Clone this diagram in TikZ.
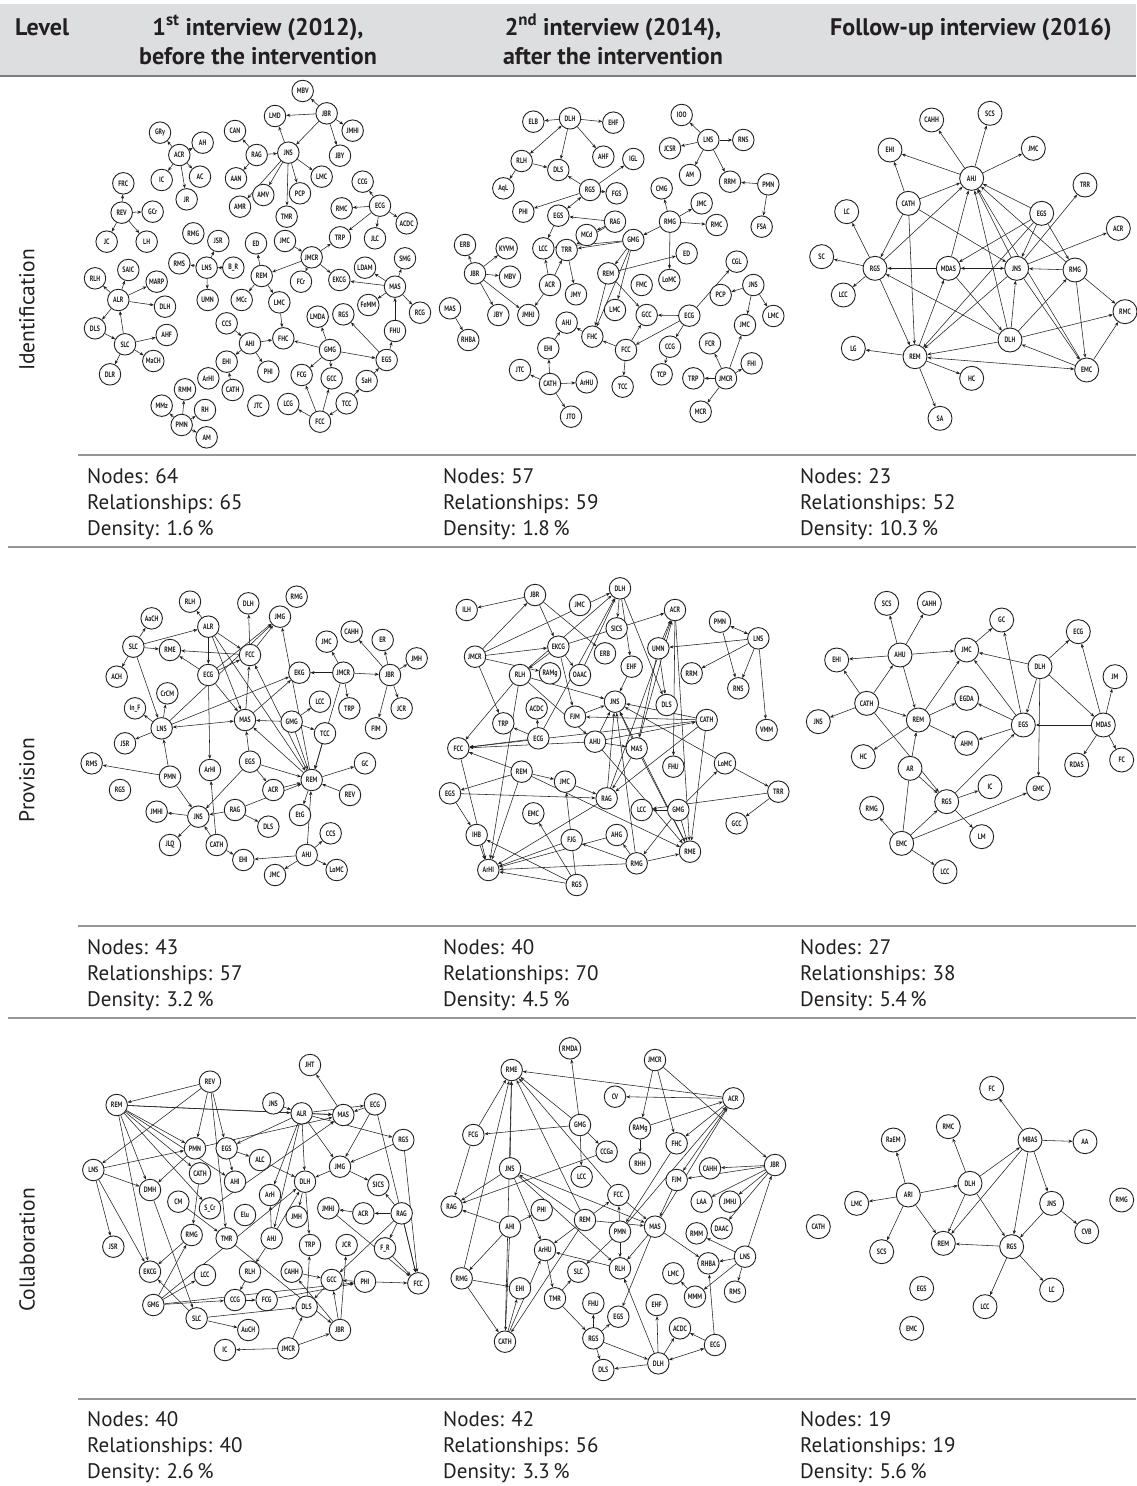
\documentclass[tikz,border=0pt]{standalone}
\usepackage{fontspec}
\setmainfont{PT Sans}
\newfontfamily\nfont[FakeStretch=0.76]{PT Sans}
\usetikzlibrary{arrows.meta}
\definecolor{hdr}{RGB}{221,222,224}
\definecolor{rulec}{RGB}{150,150,150}
\definecolor{hrule}{RGB}{125,125,125}
\definecolor{ink}{RGB}{35,31,32}
\pgfdeclarelayer{bg}
\pgfdeclarelayer{edges}
\pgfsetlayers{bg,edges,main}
\tikzset{
 nd/.style={circle, draw=ink, line width=0.9pt, fill=white, minimum size=21.5pt, inner sep=0pt, font=\nfont\bfseries\fontsize{7.8}{8}\selectfont, text=ink},
 ndL/.style={nd, minimum size=24pt},
 ed/.style={draw=ink, line width=0.55pt, -{Stealth[length=4pt,width=3.2pt]}},
 bi/.style={draw=ink, line width=0.55pt, {Stealth[length=4pt,width=3.2pt]}-{Stealth[length=4pt,width=3.2pt]}},
 stat/.style={anchor=base west, font=\fontsize{21}{24}\selectfont, text=ink, inner sep=0pt},
 head/.style={anchor=base, font=\bfseries\fontsize{24}{28}\selectfont, text=ink, inner sep=0pt},
 rowlab/.style={rotate=90, font=\fontsize{21.5}{24}\selectfont, text=ink, inner sep=0pt},
 tabrule/.style={draw=rulec, line width=1.5pt},
}
\begin{document}
\begin{tikzpicture}[x=1pt,y=-1pt]
\useasboundingbox (0,0) rectangle (1136,1486);
\begin{pgfonlayer}{bg}
\fill[white] (0,0) rectangle (1136,1486);
\end{pgfonlayer}
% header
\fill[hdr] (0,4) rectangle (1136,75);
\draw[draw=hrule, line width=2pt] (0,76) -- (1136,76);
\node[head, anchor=base west] (hLevel) at (15,35) {Level};
\node[head] (h1a) at (258,35) {1\textsuperscript{st} interview (2012),};
\node[head] (h1b) at (258,64) {before the intervention};
\node[head] (h2a) at (613,35) {2\textsuperscript{nd} interview (2014),};
\node[head] (h2b) at (613,64) {after the intervention};
\node[head] (h3a) at (971,35) {Follow-up interview (2016)};
% rules
\draw[tabrule] (78,455) -- (1136,455);
\draw[tabrule] (8,547) -- (1136,547);
\draw[tabrule] (78,926) -- (1136,926);
\draw[tabrule] (8,1018) -- (1136,1018);
\draw[tabrule] (78,1399) -- (1136,1399);
% row labels
\node[rowlab] (rIdent) at (27,310) {Identification};
\node[rowlab] (rProv) at (27,780) {Provision};
\node[rowlab] (rColl) at (27,1250) {Collaboration};
% stats
\node[stat] (s11a) at (87,483) {Nodes: 64};
\node[stat] (s11b) at (87,509) {Relationships: 65};
\node[stat] (s11c) at (87,535) {Density: 1.6\,\%};
\node[stat] (s12a) at (443,483) {Nodes: 57};
\node[stat] (s12b) at (443,509) {Relationships: 59};
\node[stat] (s12c) at (443,535) {Density: 1.8\,\%};
\node[stat] (s13a) at (800,483) {Nodes: 23};
\node[stat] (s13b) at (800,509) {Relationships: 52};
\node[stat] (s13c) at (800,535) {Density: 10.3\,\%};
\node[stat] (s21a) at (87,954) {Nodes: 43};
\node[stat] (s21b) at (87,980) {Relationships: 57};
\node[stat] (s21c) at (87,1006) {Density: 3.2\,\%};
\node[stat] (s22a) at (443,954) {Nodes: 40};
\node[stat] (s22b) at (443,980) {Relationships: 70};
\node[stat] (s22c) at (443,1006) {Density: 4.5\,\%};
\node[stat] (s23a) at (800,954) {Nodes: 27};
\node[stat] (s23b) at (800,980) {Relationships: 38};
\node[stat] (s23c) at (800,1006) {Density: 5.4\,\%};
\node[stat] (s31a) at (87,1426) {Nodes: 40};
\node[stat] (s31b) at (87,1452) {Relationships: 40};
\node[stat] (s31c) at (87,1478) {Density: 2.6\,\%};
\node[stat] (s32a) at (443,1426) {Nodes: 42};
\node[stat] (s32b) at (443,1452) {Relationships: 56};
\node[stat] (s32c) at (443,1478) {Density: 3.3\,\%};
\node[stat] (s33a) at (800,1426) {Nodes: 19};
\node[stat] (s33b) at (800,1452) {Relationships: 19};
\node[stat] (s33c) at (800,1478) {Density: 5.6\,\%};

% ===== Graph a: Identification 2012 =====
\begin{scope}[shift={(80,85)},x=0.33333pt,y=-0.33333pt]
\foreach \nm/\xx/\yy in {MBV/668/18, JBR/740/85, LMD/585/93, JMHI/818/137, CAN/465/138, RAG/530/210, JNS/625/203, JBY/780/212, AAN/468/280, LMC/725/275, AMV/550/330, PCP/660/325, AMR/480/365, TMR/620/395, GRy/240/143, AH/368/173, ACR/298/210, IC/245/285, AC/360/275, JR/320/343, FRC/130/295, REV/125/383, GCr/218/380, JC/80/470, LH/200/470, CCG/848/290, ECG/900/362, RMC/785/370, ACDC/980/415, TRP/780/457, JLC/885/460, JMC/615/468, JMCR/695/517, ED/528/475, RMG/340/445, JSR/415/468, RMS/298/535, LNS/380/548, REM/545/573, UMN/383/645, MCc/485/645, FCr/663/590, EKCG/778/585, LDAM/855/548, SMG/975/520, MAS/945/605, FeMM/865/660, RCG/1020/683, RGS/790/688, FHU/945/738, LMDA/713/695, RLH/45/580, SAIC/145/555, MARP/230/590, ALR/115/645, DLH/255/665, DLS/45/730, AHF/260/750, SLC/135/778, MaCH/220/828, DLR/90/868, CCS/440/715, AHJ/510/775, FHC/610/760, GMG/750/795, EGS/920/825, EHI/440/830, PHI/565/860, FCG/665/870, GCC/755/880, SaH/860/888, ArHI/385/880, CATH/458/915, RMM/315/913, MMz/245/962, RH/375/975, JTC/535/962, LCG/625/957, TCC/800/955, FCC/720/1010, PMN/305/1020, AM/380/1057}
  \node[nd] (a\nm) at (\xx,\yy) {\nm};
\node[nd] (aBR) at (460,548) {B\_R};
\node[nd] (aLMCb) at (598,652) {LMC};
\begin{pgfonlayer}{edges}
\foreach \sa/\tb in {JBR/MBV, JBR/LMD, JBR/JMHI, JBR/JBY, JBR/JNS, JNS/LMD, RAG/CAN, RAG/AAN, RAG/JNS, JNS/AMR, JNS/AMV, JNS/TMR, JNS/PCP, JNS/LMC, ACR/GRy, ACR/AH, ACR/IC, ACR/AC, ACR/JR, REV/FRC, REV/GCr, REV/JC, REV/LH, ECG/CCG, ECG/RMC, ECG/ACDC, ECG/TRP, ECG/JLC, JMC/JMCR, JMCR/TRP, JMCR/REM, JMCR/FCr, JMCR/EKCG, REM/ED, REM/MCc, REM/LMCb, LNS/JSR, LNS/RMS, LNS/UMN, BR/LNS, MAS/LDAM, MAS/SMG, MAS/EKCG, MAS/FeMM, MAS/RCG, FHU/MAS, EGS/FHU, EGS/RGS, GMG/EGS, GMG/LMDA, GMG/FHC, GMG/FCG, GMG/GCC, LMCb/FHC, AHJ/FHC, CCS/AHJ, AHJ/EHI, AHJ/PHI, CATH/EHI, FCC/FCG, FCC/GCC, FCC/LCG, TCC/FCC, TCC/SaH, SaH/EGS, ALR/RLH, ALR/SAIC, ALR/MARP, ALR/DLH, ALR/DLS, SLC/ALR, DLS/SLC, SLC/AHF, SLC/MaCH, SLC/DLR, PMN/MMz, PMN/RMM, PMN/RH, PMN/AM}
  \draw[ed] (a\sa) -- (a\tb);
\end{pgfonlayer}
\end{scope}

% ===== Graph b: Identification 2014 =====
\begin{scope}[shift={(440,85)},x=0.33333pt,y=-0.33333pt]
\foreach \nm/\xx/\yy in {DLH/390/100, ELB/280/110, EHF/520/113, RLH/245/228, DLS/355/255, AHF/490/215, IGL/580/222, AqL/190/310, RGS/450/315, FGS/530/325, PHI/250/380, EGS/355/392, RAG/525/410, MCd/440/450, GMG/580/465, LCC/310/490, TRR/380/495, ERB/75/480, KYVM/200/490, JBR/105/565, MBV/210/575, ACR/330/600, JMY/408/628, REM/505/565, FMC/605/600, LoMC/688/585, ED/740/505, LMC/525/675, GCC/620/690, ECG/748/692, CGL/890/530, PCP/842/630, JNS/940/600, JMC/915/720, MAS/30/670, RHBA/85/765, JBY/175/690, JMHJ/265/690, AHJ/380/713, FHC/457/755, FCC/558/795, CCG/690/785, FCR/810/775, FHI/935/835, EHI/325/790, JTC/240/855, CATH/330/897, ArHU/440/892, JTO/393/995, TCC/548/905, TCP/665/868, TRP/760/880, JMCR/858/880, MCR/782/980, IOO/725/90, LNS/805/165, RNS/910/165, JCSR/690/190, AM/750/270, RRM/870/290, PMN/985/298, FSA/965/425, CMG/665/310, RMG/690/410, RMC/830/420}
  \node[nd] (b\nm) at (\xx,\yy) {\nm};
\node[nd] (bLMCb) at (1000,693) {LMC};
\node[nd] (bJMCb) at (785,355) {JMC};
\begin{pgfonlayer}{edges}
\foreach \sa/\tb in {DLH/ELB, DLH/EHF, DLH/DLS, DLH/AHF, RLH/DLS, RLH/AqL, RGS/DLS, RGS/IGL, RGS/FGS, RGS/PHI, RAG/EGS, RAG/MCd, RAG/TRR, EGS/LCC, GMG/LCC, GMG/TRR, GMG/REM, GMG/LMC, GMG/FHC, RMG/GMG, RMG/CMG, RMG/JMCb, RMG/RMC, RMG/LoMC, REM/ED, REM/GCC, REM/FHC, JBR/ERB, JBR/KYVM, JBR/MBV, JBR/JBY, JBR/JMHJ, ACR/LCC, ACR/TRR, ACR/JMHJ, TRR/JMY, MAS/RHBA, ECG/GCC, ECG/FCC, ECG/CCG, ECG/CGL, JNS/PCP, JNS/LMCb, JNS/JMC, FCC/FHC, FCC/GCC, FCC/TCC, FHC/AHJ, EHI/AHJ, CATH/EHI, CATH/JTC, CATH/ArHU, CATH/JTO, CCG/TCP, JMCR/FCR, JMCR/FHI, JMCR/TRP, JMCR/MCR, JMCR/JMC, LNS/IOO, LNS/RNS, LNS/JCSR, LNS/AM, LNS/RRM, PMN/RRM, PMN/FSA}
  \draw[ed] (b\sa) -- (b\tb);
\foreach \sa/\tb in {DLH/RLH, RGS/EGS}
  \draw[bi] (b\sa) -- (b\tb);
\end{pgfonlayer}
\end{scope}

% ===== Graph c: Identification 2016 =====
\begin{scope}[shift={(790,85)},x=0.33333pt,y=-0.33333pt]
\foreach \nm/\xx/\yy in {CAHH/425/105, SCS/600/85, EHI/300/195, JMC/730/190, AHJ/545/280, TRR/885/300, CATH/355/355, EGS/755/385, LC/170/380, ACR/985/430, SC/95/515, RGS/255/550, MDAS/475/550, JNS/680/550, RMG/855/555, LCC/160/630, RMC/1005/680, DLH/660/765, LG/190/790, REM/375/815, EMC/890/855, HC/545/880, SA/450/1000}
  \node[ndL] (c\nm) at (\xx,\yy) {\nm};
\begin{pgfonlayer}{edges}
\foreach \sa/\tb in {AHJ/CAHH, AHJ/SCS, AHJ/JMC, AHJ/EHI, CATH/EHI, CATH/AHJ, CATH/RGS, CATH/REM, CATH/JNS, RGS/LC, RGS/SC, RGS/LCC, RGS/AHJ, RGS/REM, MDAS/RGS, MDAS/AHJ, MDAS/DLH, REM/MDAS, REM/LG, REM/HC, REM/SA, EGS/AHJ, EGS/MDAS, EGS/JNS, EGS/RMG, EGS/REM, JNS/AHJ, JNS/TRR, JNS/ACR, JNS/REM, JNS/EMC, RMG/JNS, RMG/AHJ, RMG/RMC, RMG/EMC, DLH/AHJ, DLH/JNS, DLH/RMG, DLH/RMC, DLH/REM, DLH/RGS, EMC/DLH, EMC/RMC, EMC/AHJ}
  \draw[ed] (c\sa) -- (c\tb);
\foreach \sa/\tb in {MDAS/JNS, REM/EMC}
  \draw[bi] (c\sa) -- (c\tb);
\end{pgfonlayer}
\end{scope}

% ===== Graph d: Provision 2012 =====
\begin{scope}[shift={(80,580)},x=0.33333pt,y=-0.33333pt]
\foreach \nm/\xx/\yy in {RLH/330/65, DLH/505/70, RMG/650/50, AaCH/215/115, ALR/385/140, JMG/600/110, SLC/160/200, RME/270/210, FCC/510/225, ECG/385/285, EKG/658/278, JMC/740/185, CAHH/815/155, ER/908/180, JMH/1010/235, JMCR/790/278, JBR/930/285, ACH/110/290, CrCM/262/340, LNS/245/445, MAS/495/420, GMG/635/425, LCC/720/365, TRP/808/385, JCR/965/385, FIM/888/445, TCC/735/460, JSR/135/490, RMS/35/550, PMN/270/590, ArHI/390/570, EGS/510/545, REM/695/600, GC/855/550, RGS/120/630, ACR/580/630, REV/810/645, JMHI/230/695, JNS/355/710, RAG/465/690, EtG/660/705, DLS/565/740, CCS/752/760, JLQ/270/795, CATH/410/795, EHI/490/840, AHJ/680/825, LoMC/770/870}
  \node[nd] (d\nm) at (\xx,\yy) {\nm};
\node[nd] (dInF) at (165,385) {In\_F};
\node[nd] (dJMCb) at (585,885) {JMC};
\begin{pgfonlayer}{edges}
\foreach \sa/\tb in {ALR/RLH, ALR/FCC, ALR/ECG, ALR/MAS, ALR/REM, SLC/AaCH, SLC/ACH, SLC/ALR, SLC/RME, SLC/LNS, ECG/RME, ECG/JMG, ECG/FCC, ECG/MAS, ECG/ArHI, FCC/RME, FCC/DLH, FCC/JMG, REM/FCC, MAS/FCC, LNS/EKG, LNS/InF, LNS/CrCM, LNS/JSR, LNS/JMG, PMN/LNS, PMN/RMS, PMN/JNS, GMG/MAS, GMG/LCC, GMG/TCC, GMG/REM, JMCR/EKG, JMCR/JMC, JMCR/TRP, JMCR/JBR, JMCR/REM, TCC/REM, JBR/CAHH, JBR/ER, JBR/JMH, JBR/JCR, JBR/FIM, MAS/EKG, REM/JMG, REM/MAS, REM/GC, REV/REM, REM/EtG, AHJ/REM, ACR/REM, RAG/REM, EGS/MAS, EGS/REM, EGS/ACR, EGS/JNS, RAG/JNS, RAG/DLS, JNS/JMHI, JNS/JLQ, CATH/JNS, CATH/ArHI, CATH/EHI, AHJ/EHI, AHJ/CCS, AHJ/LoMC, AHJ/JMCb}
  \draw[ed] (d\sa) -- (d\tb);
\foreach \sa/\tb in {LNS/MAS}
  \draw[bi] (d\sa) -- (d\tb);
\end{pgfonlayer}
\end{scope}

% ===== Graph e: Provision 2014 =====
\begin{scope}[shift={(440,575)},x=0.33333pt,y=-0.33333pt]
\foreach \nm/\xx/\yy in {ILH/80/105, JBR/285/60, JMC/420/90, DLH/540/40, ACR/705/105, PMN/840/140, LNS/955/190, SICS/530/160, EKCG/355/215, ERB/495/235, UMN/655/220, JMCR/105/245, RLH/240/300, RAMg/330/295, OAAC/420/300, EHF/575/275, RRM/755/295, RNS/895/340, JNS/525/380, DLS/680/390, ACDC/290/400, FJM/405/425, TRP/190/445, ECG/295/490, CATH/800/435, VMM/980/465, FCC/55/520, AHU/465/500, MAS/590/520, FHU/700/575, LoMC/855/565, REM/245/590, EGS/30/655, RAG/500/670, LCC/605/705, GMG/715/705, TRR/1015/650, EMC/280/715, GCC/890/745, IHB/110/780, FJG/395/795, AHG/530/780, RME/750/830, ArHI/145/885, RMG/590/865, RGS/410/930}
  \node[nd] (e\nm) at (\xx,\yy) {\nm};
\node[nd] (eJMCb) at (375,620) {JMC};
\begin{pgfonlayer}{edges}
\foreach \sa/\tb in {JBR/ILH, JMCR/JBR, JBR/EKCG, JBR/ERB, JMCR/EKCG, JMCR/DLH, JMCR/TRP, JMCR/RAMg, DLH/SICS, DLH/EHF, DLH/DLS, RLH/DLH, OAAC/DLH, EKCG/RLH, EKCG/OAAC, EKCG/FJM, EKCG/ACR, UMN/ACR, MAS/ACR, RAG/ACR, ACR/FHU, ACR/RME, LNS/UMN, LNS/RRM, LNS/RNS, LNS/VMM, PMN/RNS, UMN/DLS, UMN/MAS, EHF/JNS, RLH/JNS, RLH/FCC, RLH/ArHI, RLH/AHU, FJM/JNS, AHU/JNS, MAS/JNS, RAG/JNS, RME/JNS, RMG/JNS, CATH/JNS, LoMC/JNS, CATH/FJM, CATH/FCC, AHU/CATH, CATH/RAG, CATH/RME, ECG/TRP, ECG/ACDC, ECG/FCC, ECG/DLH, AHU/FCC, AHU/MAS, AHU/RME, REM/FCC, REM/EGS, REM/ArHI, REM/RME, REM/JMCb, JMCb/RAG, EGS/RAG, EGS/IHB, FCC/ArHI, IHB/ArHI, RAG/ArHI, RGS/EMC, RGS/ArHI, RGS/IHB, RMG/ArHI, RMG/FJG, RMG/AHG, RMG/RME, GMG/LCC, GMG/RME, GMG/LoMC, GMG/RMG, LoMC/TRR, TRR/GCC, TRR/LCC, AHG/ArHI, FJG/ArHI, MAS/RAG, MAS/RME, RGS/JMCb}
  \draw[ed] (e\sa) -- (e\tb);
\foreach \sa/\tb in {LNS/PMN}
  \draw[bi] (e\sa) -- (e\tb);
\end{pgfonlayer}
\end{scope}

% ===== Graph f: Provision 2016 =====
\begin{scope}[shift={(790,580)},x=0.33333pt,y=-0.33333pt]
\foreach \nm/\xx/\yy in {SCS/290/70, CAHH/418/70, GC/635/120, ECG/865/155, EHI/140/240, AHU/330/225, JMC/530/210, DLH/750/260, JM/975/290, CATH/230/370, JNS/85/425, REM/385/420, EGDA/530/355, EGS/700/435, MDAS/940/435, AHM/530/490, HC/220/530, RDAS/860/555, FC/995/540, AR/360/565, IC/600/620, GMC/745/625, RMG/245/685, RGS/470/665, LM/575/770, EMC/335/790, LCC/465/875}
  \node[ndL] (f\nm) at (\xx,\yy) {\nm};
\begin{pgfonlayer}{edges}
\foreach \sa/\tb in {AHU/SCS, AHU/CAHH, AHU/EHI, AHU/JMC, AHU/REM, CATH/EHI, CATH/AHU, CATH/JNS, CATH/REM, CATH/RGS, REM/JMC, REM/EGDA, REM/AHM, REM/HC, AR/REM, JMC/GC, EGS/GC, EGS/JMC, EGS/EGDA, EGS/AHM, DLH/JMC, DLH/ECG, DLH/EGS, DLH/MDAS, DLH/GMC, MDAS/EGS, MDAS/ECG, MDAS/JM, MDAS/RDAS, MDAS/FC, AR/RGS, RGS/EGS, RGS/IC, RGS/LM, EMC/RMG, EMC/RGS, EMC/LCC, EMC/GMC}
  \draw[ed] (f\sa) -- (f\tb);
\draw[draw=ink, line width=0.55pt] (fEMC) -- (fAR);
\end{pgfonlayer}
\end{scope}

% ===== Graph g: Collaboration 2012 =====
\begin{scope}[shift={(80,1045)},x=0.33333pt,y=-0.33333pt]
\foreach \nm/\xx/\yy in {JHT/690/60, REV/390/110, REM/110/180, JNS/580/175, ALR/665/205, MAS/790/210, ECG/885/178, RGS/970/285, PMN/345/310, EGS/440/310, LNS/40/375, CATH/360/385, ALC/540/345, AHI/465/410, DLH/675/410, JMG/780/365, SICS/895/420, DMH/210/435, CM/295/470, Elu/495/510, ArH/570/450, JMH/650/515, JMHJ/745/490, ACR/850/505, RAG/965/505, RMG/335/570, TMR/440/580, AHJ/575/580, TRP/690/600, JCR/800/600, JSR/100/605, EKCG/210/680, RLH/510/680, CAHH/635/680, GCC/755/705, PHI/855/710, FCC/1015/715, LCC/375/690, GMG/220/780, CCG/465/765, FCG/560/765, DLS/680/785, SLC/350/820, JBR/780/855, AuCH/505/855, JMCR/625/910, IC/435/915}
  \node[nd] (g\nm) at (\xx,\yy) {\nm};
\node[nd] (gSCr) at (390,490) {S\_Cr};
\node[nd] (gFR) at (915,610) {F\_R};
\begin{pgfonlayer}{edges}
\foreach \sa/\tb in {REV/REM, REV/LNS, REV/PMN, REV/EGS, REV/TMR, REM/ALR, REM/MAS, REM/PMN, REM/AHI, REM/CATH, REM/DMH, REM/EKCG, REM/SCr, LNS/PMN, LNS/DMH, LNS/JSR, LNS/EKCG, PMN/DMH, PMN/MAS, EGS/AHI, ALR/EGS, JNS/ALR, ALR/MAS, ALR/ECG, ALR/DLH, ALR/JMG, ALR/ArH, ALR/AHJ, ALR/RGS, MAS/JHT, ECG/MAS, ECG/JMG, ECG/FCC, RGS/JMG, RGS/FCC, ALC/DLH, EGS/ALC, CATH/RMG, DMH/SLC, RMG/EKCG, GMG/RMG, GMG/LCC, GMG/DLH, GMG/PHI, GMG/CCG, CM/TMR, SCr/MAS, TMR/JBR, AHJ/ArH, AHJ/DLH, AHJ/RLH, DLH/JMH, DLH/TRP, JMG/DLH, JMG/SICS, ACR/JMHJ, RAG/ACR, RAG/SICS, RAG/FR, RAG/FCC, RAG/GCC, JMHJ/FCC, FR/FCC, PHI/FCC, PHI/GCC, CAHH/GCC, DLS/TRP, GCC/DLS, JBR/GCC, JBR/JCR, JBR/CAHH, CCG/FCG, RLH/CCG, FCG/PHI, SLC/AuCH, SLC/EKCG, SLC/DLS, JMCR/JBR, JMCR/IC, JMCR/DLS}
  \draw[ed] (g\sa) -- (g\tb);
\end{pgfonlayer}
\end{scope}

% ===== Graph h: Collaboration 2014 =====
\begin{scope}[shift={(440,1045)},x=0.33333pt,y=-0.33333pt]
\foreach \nm/\xx/\yy in {RMDA/390/10, JMCR/645/45, RME/215/75, CV/525/155, ACR/880/160, GMG/420/240, RAMg/600/250, FHC/710/295, FCG/100/270, CCGa/500/320, RHH/600/355, JBR/1005/360, JNS/210/370, LCC/425/395, CAHH/810/370, FJM/710/405, FCC/535/450, RAG/35/485, PHI/305/495, LAA/785/470, JMHJ/870/470, REM/435/525, AHI/210/545, PMN/540/560, MAS/645/545, DAAC/845/550, RMM/770/565, ArHU/315/615, RLH/540/670, RHBA/805/655, LNS/915/635, SLC/415/680, LMC/700/685, RMG/65/700, EHI/240/730, MMM/765/755, RMS/885/740, TMR/345/760, FHU/460/775, EHF/650/780, EGS/535/815, ACDC/720/850, RGS/460/880, ECG/825/900, CATH/195/890, DLH/655/955, DLS/490/975}
  \node[nd] (h\nm) at (\xx,\yy) {\nm};
\begin{pgfonlayer}{edges}
\foreach \sa/\tb in {GMG/RMDA, GMG/RME, GMG/FCG, GMG/CCGa, GMG/LCC, JMCR/RAMg, JMCR/FHC, JMCR/JBR, ACR/RME, ACR/CV, ACR/FHC, ACR/FJM, RAMg/ACR, MAS/ACR, PMN/ACR, RAMg/RHH, CCGa/RAG, FCG/RAG, JNS/RME, JNS/RAG, JNS/ArHU, JNS/MAS, REM/JNS, FCG/RME, RMG/RME, CATH/RME, REM/RME, FCC/RME, JBR/CAHH, JBR/FJM, JBR/LAA, JBR/JMHJ, JBR/DAAC, LNS/JBR, LNS/RMM, LNS/RHBA, LNS/RMS, LNS/MMM, AHI/RAG, AHI/RMG, AHI/PHI, AHI/CATH, REM/FCC, REM/MAS, REM/ArHU, REM/CATH, PMN/FCC, PMN/SLC, PMN/RLH, FHC/PMN, FCC/MAS, MAS/RLH, MAS/RHBA, MAS/EGS, FJM/MAS, RLH/ArHU, ArHU/TMR, TMR/SLC, TMR/RGS, CATH/ArHU, CATH/EHI, RMG/EHI, RMG/CATH, RGS/FHU, RGS/EGS, RGS/DLS, RGS/DLH, DLH/DLS, DLH/EHF, DLH/ACDC, DLH/RLH, ECG/ACDC, ECG/RHBA, MMM/LMC, JNS/RLH}
  \draw[ed] (h\sa) -- (h\tb);
\foreach \sa/\tb in {ECG/DLH}
  \draw[bi] (h\sa) -- (h\tb);
\end{pgfonlayer}
\end{scope}

% ===== Graph i: Collaboration 2016 =====
\begin{scope}[shift={(790,1060)},x=0.33333pt,y=-0.33333pt]
\foreach \nm/\xx/\yy in {FC/605/85, RMC/475/200, RaEM/310/240, MBAS/720/240, AA/885/245, DLH/540/370, ARI/355/405, LMC/200/430, JNS/785/430, RMG/995/420, CATH/85/500, CVB/890/515, REM/460/550, RGS/665/560, SCS/275/575, EGS/395/685, LC/785/690, LCC/585/740, EMC/365/805}
  \node[ndL] (i\nm) at (\xx,\yy) {\nm};
\begin{pgfonlayer}{edges}
\foreach \sa/\tb in {MBAS/FC, MBAS/AA, MBAS/JNS, MBAS/RGS, MBAS/REM, DLH/MBAS, DLH/RMC, DLH/REM, DLH/RGS, ARI/RaEM, ARI/LMC, ARI/DLH, ARI/SCS, ARI/REM, JNS/CVB, JNS/RGS, RGS/REM, RGS/LCC, RGS/LC}
  \draw[ed] (i\sa) -- (i\tb);
\end{pgfonlayer}
\end{scope}
\end{tikzpicture}
\end{document}
